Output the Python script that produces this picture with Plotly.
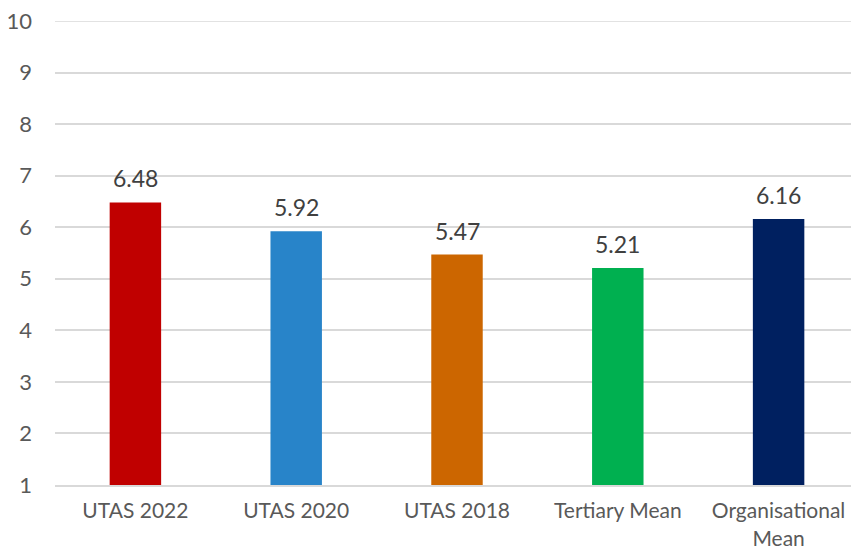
import plotly.graph_objects as go

categories = ["UTAS 2022", "UTAS 2020", "UTAS 2018", "Tertiary Mean", "Organisational<br>Mean"]
values = [6.48, 5.92, 5.47, 5.21, 6.16]
colors = ["#C00000", "#2884C9", "#CC6600", "#00B050", "#002060"]
y_ticks = [1, 2, 3, 4, 5, 6, 7, 8, 9, 10]

FONT = "Lato"
GRID = "#D9D9D9"

fig = go.Figure()
fig.add_trace(go.Bar(
    x=categories, y=values, marker=dict(color=colors, line=dict(width=0)),
    hoverinfo="skip",
))

for c, v in zip(categories, values):
    fig.add_annotation(
        x=c, y=v, text=f"{v:.2f}", showarrow=False, yanchor="bottom",
        yshift=8, font=dict(family=FONT, size=23, color="#404040"),
    )

# top gridline (Plotly drops gridlines that sit on the plot edge)
fig.add_shape(type="line", xref="paper", x0=0, x1=1, yref="y",
              y0=y_ticks[-1], y1=y_ticks[-1], line=dict(color=GRID, width=1.5),
              layer="below")

# page body has an 8px margin, so the figure is offset by (8, 8)
fig.update_layout(
    width=851, height=540,
    margin=dict(l=47, r=0, t=13, b=63),
    plot_bgcolor="white", paper_bgcolor="white",
    bargap=0.68, showlegend=False,
    font=dict(family=FONT, color="#595959"),
)
fig.update_xaxes(
    showgrid=False, showline=True, linecolor=GRID, linewidth=2,
    tickfont=dict(family=FONT, size=21, color="#595959"), ticks="",
    automargin=False, ticklabelstandoff=6, ticklabeloverflow="allow",
)
fig.update_yaxes(
    range=[y_ticks[0], y_ticks[-1]], tickvals=y_ticks, showgrid=True, gridcolor=GRID,
    gridwidth=1.5, zeroline=False, showline=False, ticks="",
    tickfont=dict(family=FONT, size=22, color="#595959"), ticklabelstandoff=22,
    automargin=False, ticklabeloverflow="allow",
)

fig.write_html("out.html")
